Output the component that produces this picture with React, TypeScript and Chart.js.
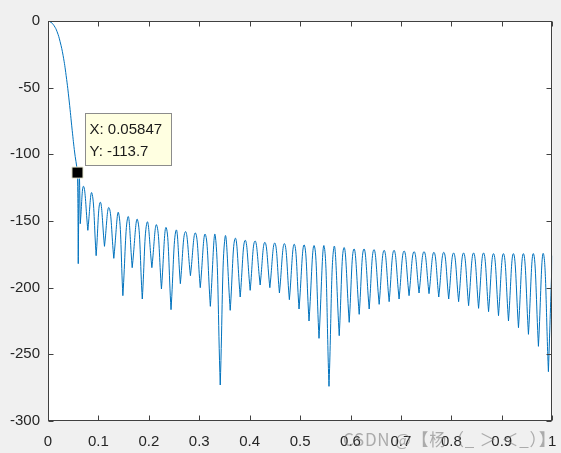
import React, { useEffect, useRef } from "react";
import { Chart, registerables } from "chart.js";

Chart.register(...registerables);

// ---- data ----
// main lobe (normalized frequency, dB)
const mainLobeFreq = [0, 0.006, 0.012, 0.018, 0.024, 0.03, 0.036, 0.042, 0.048, 0.053, 0.0565, 0.05847];
const mainLobeDb = [0, -1, -3.5, -8, -15.5, -26, -41, -60, -82, -99, -108, -113.7];

// side-lobe nulls (bottom of each spike)
const nullFreq = [
  0.06, 0.064, 0.079, 0.0955, 0.112, 0.1305, 0.1485, 0.167, 0.187, 0.206,
  0.225, 0.244, 0.2625, 0.2825, 0.302, 0.322, 0.3416, 0.3614, 0.3812, 0.401,
  0.4208, 0.44, 0.459, 0.4787, 0.4979, 0.5177, 0.5375, 0.5573, 0.5776, 0.5974,
  0.6172, 0.637, 0.6568, 0.6766, 0.6963, 0.7161, 0.7359, 0.7557, 0.775, 0.7947,
  0.8144, 0.8342, 0.854, 0.8738, 0.8935, 0.9133, 0.9331, 0.9529, 0.9727, 0.9925,
];
const nullDb = [
  -182, -152, -157, -176, -169, -178, -206, -185, -208.5, -185,
  -201, -216.5, -197, -191, -200, -214, -273, -217, -207, -202,
  -198, -200, -204, -209, -216, -225, -238, -274, -236, -226,
  -220, -216, -212.5, -210.5, -208.5, -206, -204, -204.5, -207, -208.5,
  -210.5, -213.5, -215.5, -218, -221, -225, -230, -235, -244, -263,
];

// side-lobe peaks (one between each pair of nulls)
const peakFreq = [
  0.062, 0.0705, 0.087, 0.1035, 0.121, 0.14, 0.1585, 0.1775, 0.1965, 0.2155,
  0.2345, 0.254, 0.2725, 0.2925, 0.312, 0.3318, 0.3512, 0.3713, 0.391, 0.4105,
  0.4302, 0.4498, 0.469, 0.4886, 0.5082, 0.528, 0.5478, 0.5672, 0.587, 0.6068,
  0.6266, 0.6464, 0.6666, 0.6862, 0.7062, 0.726, 0.7458, 0.7655, 0.785, 0.8045,
  0.8243, 0.8441, 0.8639, 0.8837, 0.9034, 0.9232, 0.943, 0.9628, 0.9826,
];
const peakDb = [
  -116, -124, -129, -136, -140, -144, -147, -149, -151, -153,
  -155, -157, -158, -159, -160, -161, -162, -163, -164.5, -165,
  -166, -166.5, -167, -167.5, -168, -168.5, -169, -169.5, -170, -171,
  -171, -171.5, -172, -172, -172.5, -173, -173, -173.5, -173.5, -174,
  -174, -174, -174, -174.5, -174.5, -174.5, -174.5, -174.5, -174.5,
];

const endFreq = [1.0];
const endDb = [-176];

const xTicks = [0, 0.1, 0.2, 0.3, 0.4, 0.5, 0.6, 0.7, 0.8, 0.9, 1];
const xTickLabels = ["0", "0.1", "0.2", "0.3", "0.4", "0.5", "0.6", "0.7", "0.8", "0.9", "1"];
const yTicks = [-300, -250, -200, -150, -100, -50, 0];
const yTickLabels = ["-300", "-250", "-200", "-150", "-100", "-50", "0"];

const tipX = [0.05847];
const tipY = [-113.7];
const tipLines = ["X: 0.05847", "Y: -113.7"];
const watermark = "CSDN @【杨（_ ＞ ＜_）】";

const FONT = "'Liberation Sans', Arial, Helvetica, sans-serif";

function buildSeries() {
  const pts: { x: number; y: number }[] = mainLobeFreq.map((f, i) => ({ x: f, y: mainLobeDb[i] }));
  for (let i = 0; i < nullFreq.length; i++) {
    const n = { x: nullFreq[i], y: nullDb[i] };
    // the null is listed twice so the spline keeps a sharp cusp there
    pts.push(n, { x: n.x, y: n.y });
    if (i < peakFreq.length) pts.push({ x: peakFreq[i], y: peakDb[i] });
  }
  endFreq.forEach((f, i) => pts.push({ x: f, y: endDb[i] }));
  return pts;
}

const framePlugin = {
  id: "matlabFrame",
  beforeDatasetsDraw(chart: any) {
    const { ctx, chartArea: a } = chart;
    ctx.save();
    ctx.fillStyle = "#ffffff";
    ctx.fillRect(a.left, a.top, a.right - a.left, a.bottom - a.top);
    ctx.restore();
  },
  afterDatasetsDraw(chart: any) {
    const { ctx, chartArea: a, scales } = chart;
    const x = scales.x;
    const y = scales.y;
    ctx.save();
    ctx.strokeStyle = "#404040";
    ctx.lineWidth = 1;
    ctx.beginPath();
    const L = Math.round(a.left) + 0.5;
    const R = Math.round(a.right) - 0.5;
    const T = Math.round(a.top) + 0.5;
    const B = Math.round(a.bottom) - 0.5;
    for (const v of xTicks) {
      const px = Math.round(x.getPixelForValue(v)) + 0.5;
      ctx.moveTo(px, B);
      ctx.lineTo(px, B - 5);
      ctx.moveTo(px, T);
      ctx.lineTo(px, T + 5);
    }
    for (const v of yTicks) {
      const py = Math.round(y.getPixelForValue(v)) + 0.5;
      ctx.moveTo(L, py);
      ctx.lineTo(L + 5, py);
      ctx.moveTo(R, py);
      ctx.lineTo(R - 5, py);
    }
    ctx.stroke();
    ctx.strokeRect(L, T, R - L, B - T);

    // data tip box
    const px = x.getPixelForValue(tipX[0]);
    const py = y.getPixelForValue(tipY[0]);
    const bx = Math.round(px + 8) + 0.5;
    const by = Math.round(py - 60) + 0.5;
    const bw = 86;
    const bh = 52;
    ctx.fillStyle = "#ffffe1";
    ctx.fillRect(bx, by, bw, bh);
    ctx.strokeStyle = "#8c8c8c";
    ctx.strokeRect(bx, by, bw, bh);
    ctx.fillStyle = "#1a1a1a";
    ctx.font = `15px ${FONT}`;
    ctx.textBaseline = "middle";
    ctx.textAlign = "left";
    ctx.fillText(tipLines[0], bx + 4, by + 16);
    ctx.fillText(tipLines[1], bx + 4, by + 38.5);
    ctx.restore();
  },
};

export default function App() {
  const canvasRef = useRef<HTMLCanvasElement | null>(null);

  useEffect(() => {
    if (!canvasRef.current) return;
    const chart = new Chart(canvasRef.current, {
      type: "line",
      data: {
        datasets: [
          {
            data: tipX.map((v, i) => ({ x: v, y: tipY[i] })),
            showLine: false,
            pointStyle: "rect",
            pointRadius: 7.8,
            pointBackgroundColor: "#000000",
            pointBorderColor: "#e8e8d0",
            pointBorderWidth: 1,
            order: -1,
          },
          {
            data: buildSeries(),
            borderColor: "#0072BD",
            borderWidth: 1,
            pointRadius: 0,
            tension: 0.45,
            fill: false,
            order: 0,
          },
        ],
      },
      options: {
        responsive: false,
        animation: false,
        events: [],
        devicePixelRatio: 1,
        layout: { padding: { left: 0, right: 5, top: 21, bottom: 0 } },
        plugins: {
          legend: { display: false },
          tooltip: { enabled: false },
        },
        scales: {
          x: {
            type: "linear",
            min: 0,
            max: 1,
            grid: { display: false, drawTicks: false },
            border: { display: false },
            afterBuildTicks: (s: any) => {
              s.ticks = xTicks.map((v) => ({ value: v }));
            },
            afterFit: (s: any) => {
              s.height = 32;
              s.paddingLeft = 0;
              s.paddingRight = 0;
            },
            ticks: {
              autoSkip: false,
              maxRotation: 0,
              padding: 12,
              color: "#262626",
              font: { family: FONT, size: 15 },
              callback: (_v: any, i: number) => xTickLabels[i],
            },
          },
          y: {
            type: "linear",
            min: -300,
            max: 0,
            grid: { display: false, drawTicks: false },
            border: { display: false },
            afterBuildTicks: (s: any) => {
              s.ticks = yTicks.map((v) => ({ value: v }));
            },
            afterFit: (s: any) => {
              s.width = 48;
              s.paddingTop = 0;
              s.paddingBottom = 0;
            },
            ticks: {
              autoSkip: false,
              padding: 8,
              color: "#262626",
              font: { family: FONT, size: 15 },
              callback: (_v: any, i: number) => yTickLabels[i],
            },
          },
        },
      },
      plugins: [framePlugin],
    });
    return () => chart.destroy();
  }, []);

  return (
    <div
      style={{
        position: "absolute",
        left: 0,
        top: 0,
        width: 561,
        height: 453,
        background: "#f0f0f0",
        overflow: "hidden",
      }}
    >
      <canvas ref={canvasRef} width={561} height={453} style={{ display: "block" }} />
      <div
        style={{
          position: "absolute",
          left: 343,
          top: 429,
          fontFamily: "'Noto Sans CJK SC', 'Noto Sans', sans-serif",
          fontSize: 17,
          lineHeight: "20px",
          letterSpacing: "0.7px",
          color: "rgba(125,125,125,0.6)",
          whiteSpace: "nowrap",
          pointerEvents: "none",
        }}
      >
        {watermark}
      </div>
    </div>
  );
}
